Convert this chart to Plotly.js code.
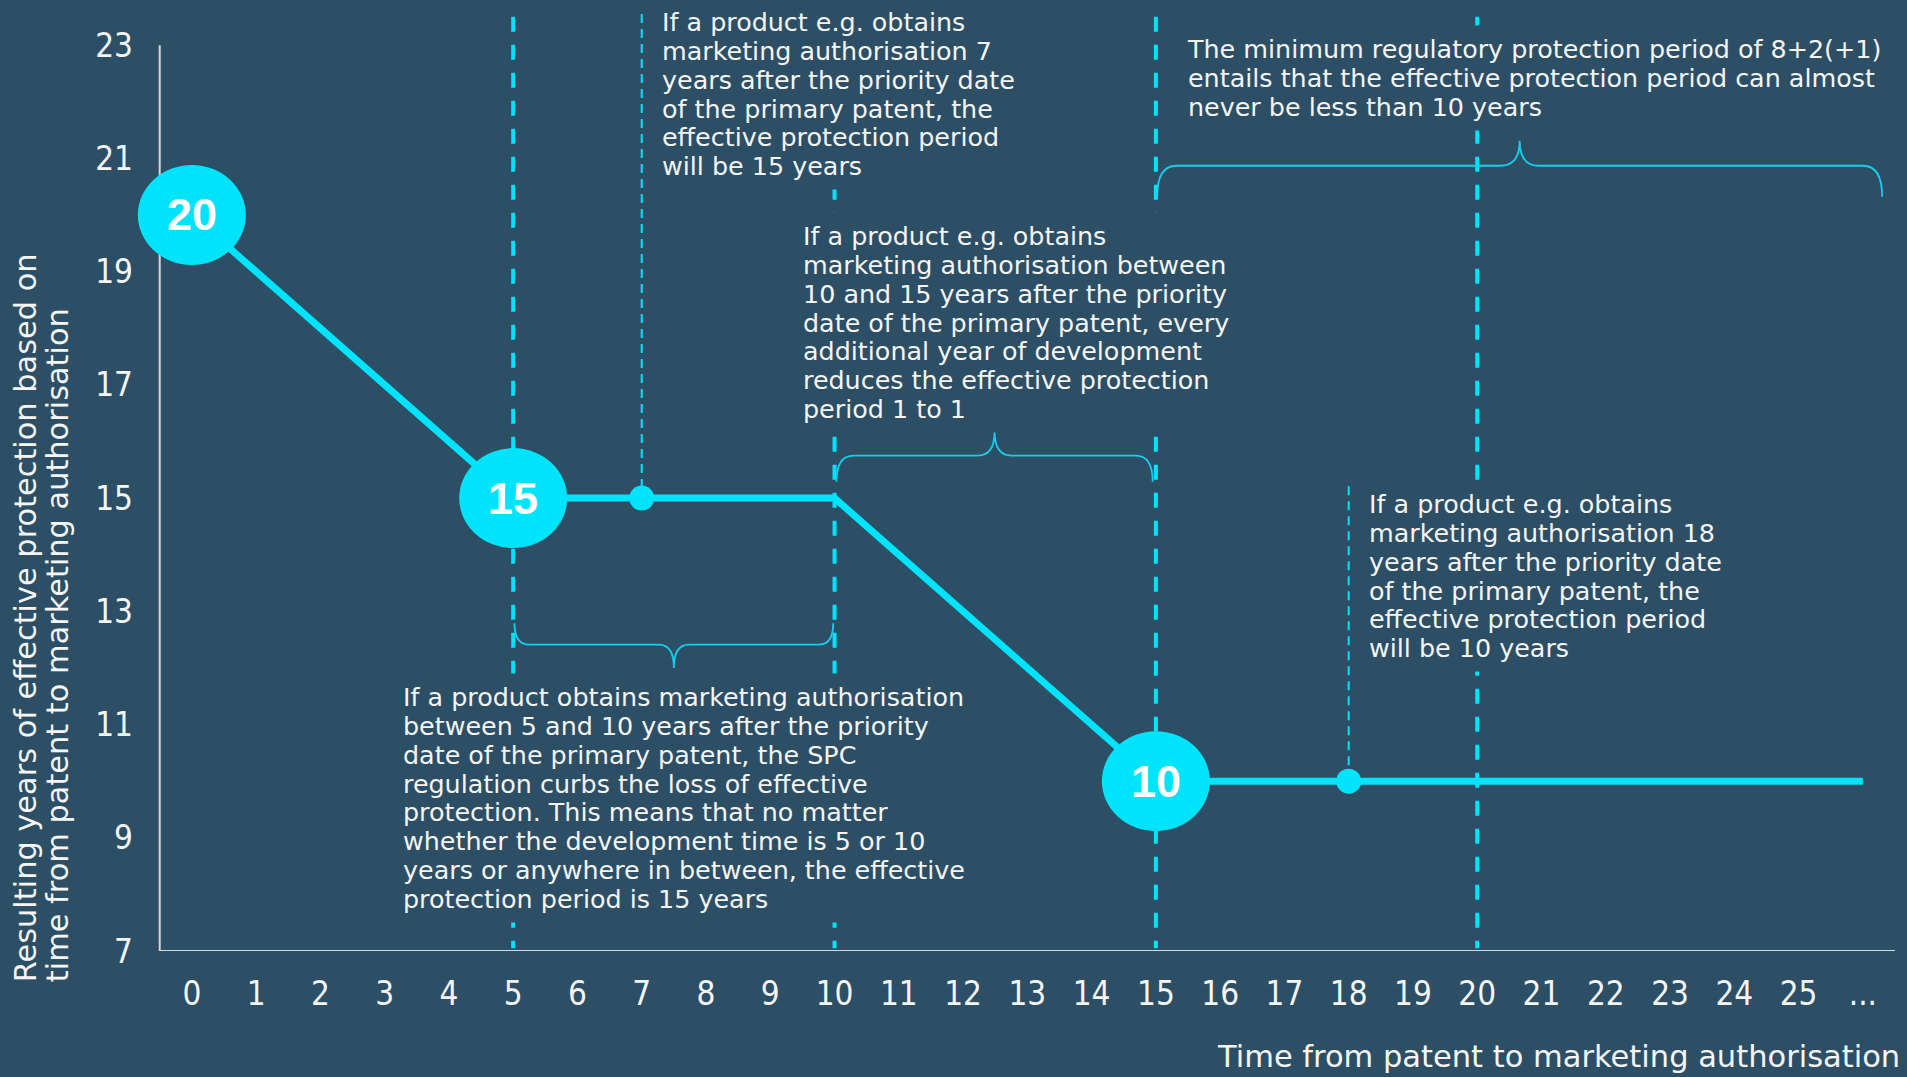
<!DOCTYPE html>
<html>
<head>
<meta charset="utf-8">
<script src="https://cdn.plot.ly/plotly-3.0.1.min.js"></script>
<style>html,body{margin:0;padding:0;background:#2c4f65;}#chart{width:1907px;height:1077px;}</style>
</head>
<body>
<div id="chart"></div>
<script>
// ---------- data ----------
var xTickVals = [0,1,2,3,4,5,6,7,8,9,10,11,12,13,14,15,16,17,18,19,20,21,22,23,24,25,26];
var xTickText = ['0','1','2','3','4','5','6','7','8','9','10','11','12','13','14','15','16','17','18','19','20','21','22','23','24','25','...'];
var yTickVals = [7,9,11,13,15,17,19,21,23];

// effective protection curve
var curveX = [0, 5, 10, 15, 26];
var curveY = [20, 15, 15, 10, 10];

// highlighted milestones (big circles)
var milestoneX = [0, 5, 15];
var milestoneY = [20, 15, 10];
var milestoneLabel = ['20', '15', '10'];

// example points (small dots)
var exampleX = [7, 18];
var exampleY = [15, 10];
var exampleLineTop = [23.55, 15.21];

// period boundaries (thick dashed)
var boundaryX = [5, 10, 15, 20];

// braces: from, to, horizontal level, end offset, tip offset
var braceFrom = [5.02, 10.03, 15.02];
var braceTo   = [9.98, 14.95, 26.30];
var braceLevel = [12.41, 15.75, 20.87];
var braceEnd = [0.38, -0.46, -0.55];
var braceTip = [-0.41, 0.43, 0.44];

// notes
var noteLines = [
  ['If a product e.g. obtains','marketing authorisation 7','years after the priority date','of the primary patent, the','effective protection period','will be 15 years'],
  ['If a product e.g. obtains','marketing authorisation between','10 and 15 years after the priority','date of the primary patent, every','additional year of development','reduces the effective protection','period 1 to 1'],
  ['If a product obtains marketing authorisation','between 5 and 10 years after the priority','date of the primary patent, the SPC','regulation curbs the loss of effective','protection. This means that no matter','whether the development time is 5 or 10','years or anywhere in between, the effective','protection period is 15 years'],
  ['The minimum regulatory protection period of 8+2(+1)','entails that the effective protection period can almost','never be less than 10 years'],
  ['If a product e.g. obtains','marketing authorisation 18','years after the priority date','of the primary patent, the','effective protection period','will be 10 years']
];
var noteX = [7.17, 9.37, 3.14, 15.34, 18.18];
var noteY = [22.13, 18.10, 9.70, 22.42, 13.62];

var yTitleLines = ['Resulting years of effective protection based on','time from patent to marketing authorisation'];
var xTitle = 'Time from patent to marketing authorisation';

// ---------- styling ----------
var BG = '#2c4f65';
var CYAN = '#00e4fb';
var TXT = '#f5f5f5';
var AXC = '#d5d8da';
var X_LO = -0.5, X_HI = 26.5, Y_LO = 7, Y_HI = 23;

var shapes = [];
// axis lines
shapes.push({type:'line', xref:'x', yref:'y', x0:X_LO, x1:X_LO, y0:Y_LO, y1:Y_HI, line:{color:AXC, width:2}, layer:'below'});
shapes.push({type:'line', xref:'x', yref:'y', x0:X_LO, x1:X_HI, y0:Y_LO, y1:Y_LO, line:{color:AXC, width:2}, layer:'below'});
// thick dashed boundaries
boundaryX.forEach(function(v){
  shapes.push({type:'line', xref:'x', yref:'y', x0:v, x1:v, y0:23.5, y1:7.05, line:{color:CYAN, width:4, dash:'15px,13px'}, layer:'below'});
});
// thin dashed example lines
exampleX.forEach(function(v,i){
  shapes.push({type:'line', xref:'x', yref:'y', x0:v, x1:v, y0:exampleLineTop[i], y1:exampleY[i], line:{color:CYAN, width:2, dash:'9px,6px'}, layer:'below'});
});
// braces
var curlPx = [15, 17, 19];
var dxPerPx = 1 / 64.27;
braceFrom.forEach(function(a,i){
  var b = braceTo[i], h = braceLevel[i], e = h + braceEnd[i], t = h + braceTip[i];
  var c = curlPx[i]*dxPerPx, m = (a+b)/2;
  var p = 'M '+a+','+e+' Q '+a+','+h+' '+(a+c)+','+h+' L '+(m-c)+','+h+' Q '+m+','+h+' '+m+','+t+
          ' Q '+m+','+h+' '+(m+c)+','+h+' L '+(b-c)+','+h+' Q '+b+','+h+' '+b+','+e;
  shapes.push({type:'path', xref:'x', yref:'y', path:p, line:{color:'#14cfee', width:1.8}, layer:'below'});
});
// big milestone ellipses
milestoneX.forEach(function(v,i){
  shapes.push({type:'circle', xref:'x', yref:'y', xsizemode:'pixel', ysizemode:'pixel', xanchor:v, yanchor:milestoneY[i],
    x0:-54, x1:54, y0:-50, y1:50, fillcolor:CYAN, line:{width:0}, layer:'above'});
});

var annotations = [];
milestoneX.forEach(function(v,i){
  annotations.push({x:v, y:milestoneY[i], xref:'x', yref:'y', text:'<b>'+milestoneLabel[i]+'</b>', showarrow:false,
    font:{family:'Liberation Sans, Arial, sans-serif', size:45, color:'#ffffff'}, xanchor:'center', yanchor:'middle'});
});
noteLines.forEach(function(lines,i){
  var txt = lines.map(function(l){return '<span style="font-size:25.4px">'+l+'</span>';}).join('<br>');
  annotations.push({x:noteX[i], y:noteY[i], xref:'x', yref:'y', text:txt, showarrow:false, align:'left',
    xanchor:'left', yanchor:'middle', bgcolor:BG, borderpad:8,
    font:{family:'DejaVu Sans, sans-serif', size:22.2, color:TXT}});
});
// axis titles
annotations.push({xref:'paper', yref:'paper', x:-0.0521, y:-0.0357, xanchor:'center', yanchor:'bottom', textangle:-90, align:'left', showarrow:false,
  text: yTitleLines.map(function(l){return '<span style="font-size:30.4px">'+l+'</span>';}).join('<br>'),
  font:{family:'DejaVu Sans, sans-serif', size:24.3, color:TXT}});
annotations.push({xref:'paper', yref:'paper', x:1.0037, y:-0.1339, xanchor:'right', yanchor:'bottom', showarrow:false,
  text: xTitle, font:{family:'DejaVu Sans, sans-serif', size:30.5, color:TXT}});

var traces = [
  {x:curveX, y:curveY, mode:'lines', line:{color:CYAN, width:7}, hoverinfo:'skip'},
  {x:exampleX, y:exampleY, mode:'markers', marker:{color:CYAN, size:25}, hoverinfo:'skip', cliponaxis:false}
];

var tickFont = {family:'DejaVu Sans Condensed, DejaVu Sans, sans-serif', size:33, color:TXT};
var layout = {
  width:1907, height:1077,
  margin:{l:134.4, r:11.6, t:13.9, b:125.5, pad:0},
  paper_bgcolor:BG, plot_bgcolor:BG,
  showlegend:false,
  xaxis:{range:[-0.9,26.5], tickvals:xTickVals, ticktext:xTickText, showgrid:false, zeroline:false,
    showline:false, ticks:'', tickfont:tickFont, ticklabelstandoff:20, fixedrange:true},
  yaxis:{range:[7,23.55], tickvals:yTickVals, showgrid:false, zeroline:false, showline:false, ticks:'',
    tickfont:tickFont, ticklabelstandoff:0, fixedrange:true},
  shapes:shapes,
  annotations:annotations
};
Plotly.newPlot('chart', traces, layout, {displayModeBar:false, staticPlot:true});
</script>
</body>
</html>
